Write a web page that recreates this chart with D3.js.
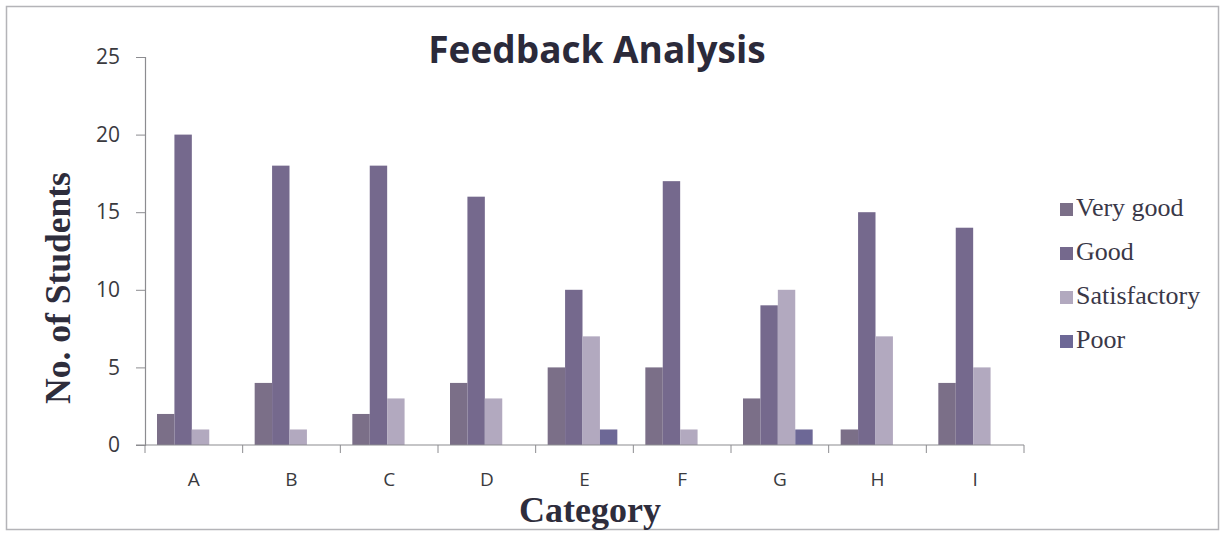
<!DOCTYPE html>
<html>
<head>
<meta charset="utf-8">
<script src="https://cdn.jsdelivr.net/npm/d3@7"></script>
<style>
  html, body { margin: 0; padding: 0; background: #fff; }
  svg { display: block; }
</style>
</head>
<body>
<svg id="chart" width="1225" height="536"></svg>
<script>
// Feedback counts per category
const categories = ["A", "B", "C", "D", "E", "F", "G", "H", "I"];
const seriesNames = ["Very good", "Good", "Satisfactory", "Poor"];
const veryGood     = [2, 4, 2, 4, 5, 5, 3, 1, 4];
const good         = [20, 18, 18, 16, 10, 17, 9, 15, 14];
const satisfactory = [1, 1, 3, 3, 7, 1, 10, 7, 5];
const poor         = [0, 0, 0, 0, 1, 0, 1, 0, 0];
const yTicks = [0, 5, 10, 15, 20, 25];

const seriesValues = [veryGood, good, satisfactory, poor];
const colors = ["#7b6f88", "#75698d", "#b2a9bf", "#6d6896"];

const svg = d3.select("#chart");
const W = 1225, H = 536;
const plot = { left: 145, right: 1024, top: 57, bottom: 445 };

// outer frame
svg.append("rect")
  .attr("x", 6.5).attr("y", 6.5)
  .attr("width", W - 13).attr("height", H - 13)
  .attr("fill", "#fff").attr("stroke", "#b4b4b8").attr("stroke-width", 1.5);

const x0 = d3.scaleBand().domain(categories).range([plot.left, plot.right]).paddingInner(0).paddingOuter(0);
const x1 = d3.scaleBand().domain(seriesNames).range([12, x0.bandwidth() - 16]).padding(0);
const y = d3.scaleLinear().domain([0, 25]).range([plot.bottom, plot.top]);

const tickFont = "'Open Sans', 'Liberation Sans', sans-serif";
const serif = "'Liberation Serif', 'DejaVu Serif', serif";

// bars
const groups = svg.append("g").selectAll("g")
  .data(categories)
  .join("g")
  .attr("transform", d => `translate(${x0(d)},0)`);

groups.selectAll("rect")
  .data((c, i) => seriesNames.map((s, k) => ({ s, k, v: seriesValues[k][i] })))
  .join("rect")
  .attr("x", d => x1(d.s))
  .attr("width", x1.bandwidth())
  .attr("y", d => y(d.v))
  .attr("height", d => y(0) - y(d.v))
  .attr("fill", d => colors[d.k]);

// y axis
const yAxis = d3.axisLeft(y).tickValues(yTicks).tickSize(9).tickPadding(16);
const gy = svg.append("g").attr("transform", `translate(${plot.left},0)`).call(yAxis);
gy.select(".domain").attr("stroke", "#8c8c90").attr("stroke-width", 1.2);
gy.selectAll(".tick line").attr("stroke", "#8c8c90");
gy.selectAll(".tick text")
  .attr("font-family", tickFont).attr("font-size", 21).attr("fill", "#3a3a3e");

// x axis with boundary ticks between categories
const xAxisG = svg.append("g").attr("transform", `translate(0,${plot.bottom})`);
xAxisG.append("line")
  .attr("x1", plot.left - 9).attr("x2", plot.right)
  .attr("y1", 0).attr("y2", 0)
  .attr("stroke", "#8c8c90").attr("stroke-width", 1.2);
const bounds = categories.map(c => x0(c)).concat([x0(categories[categories.length - 1]) + x0.bandwidth()]);
xAxisG.selectAll("line.b")
  .data(bounds)
  .join("line")
  .attr("class", "b")
  .attr("x1", d => d).attr("x2", d => d)
  .attr("y1", 0).attr("y2", 8)
  .attr("stroke", "#8c8c90");
xAxisG.selectAll("text")
  .data(categories)
  .join("text")
  .attr("x", d => x0(d) + x0.bandwidth() / 2)
  .attr("y", 41)
  .attr("text-anchor", "middle")
  .attr("font-family", tickFont).attr("font-size", 19).attr("fill", "#3a3a3e")
  .text(d => d);

// title
svg.append("text")
  .attr("x", 597).attr("y", 63)
  .attr("text-anchor", "middle")
  .attr("font-family", tickFont).attr("font-weight", 700)
  .attr("font-size", 37).attr("fill", "#2b2a3a")
  .text("Feedback Analysis");

// axis titles
svg.append("text")
  .attr("transform", "translate(70,288) rotate(-90)")
  .attr("text-anchor", "middle")
  .attr("font-family", serif).attr("font-weight", 700)
  .attr("font-size", 35.5).attr("fill", "#2e2d3c")
  .text("No. of Students");

svg.append("text")
  .attr("x", 590).attr("y", 522)
  .attr("text-anchor", "middle")
  .attr("font-family", serif).attr("font-weight", 700)
  .attr("font-size", 36).attr("fill", "#2e2d3c")
  .text("Category");

// legend
const legend = svg.append("g").attr("transform", "translate(1060,216)");
const items = legend.selectAll("g")
  .data(seriesNames)
  .join("g")
  .attr("transform", (d, i) => `translate(0,${i * 44})`);
items.append("rect")
  .attr("x", 0).attr("y", -13).attr("width", 13).attr("height", 13)
  .attr("fill", (d, i) => colors[i]);
items.append("text")
  .attr("x", 16).attr("y", 0)
  .attr("font-family", serif).attr("font-size", 26).attr("fill", "#3a3848")
  .text(d => d);
</script>
</body>
</html>
